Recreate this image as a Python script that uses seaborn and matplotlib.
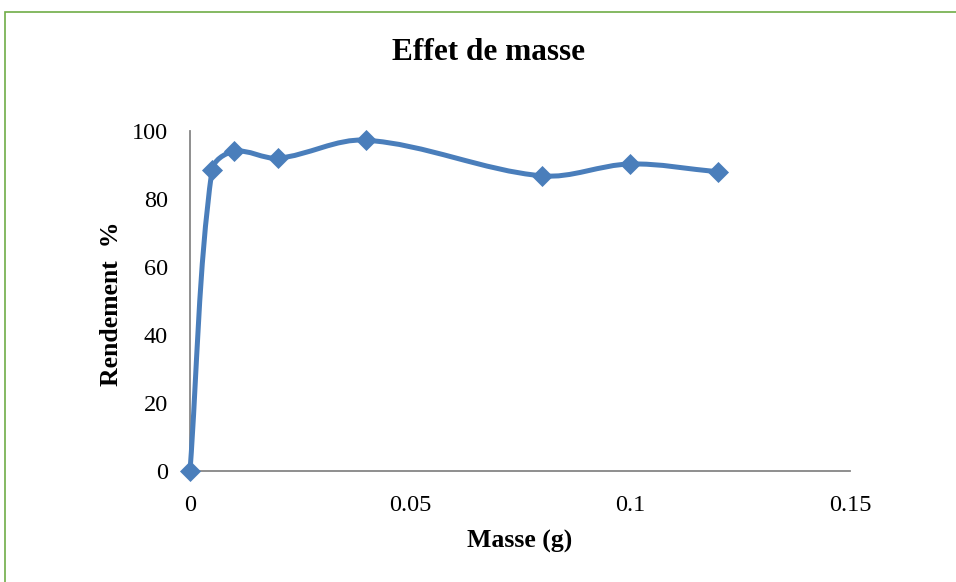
import numpy as np
import pandas as pd
import seaborn as sns
import matplotlib
matplotlib.use("Agg")
import matplotlib.pyplot as plt
from matplotlib.path import Path
from matplotlib.patches import PathPatch, Rectangle

# ---- data ----
masse = [0.0, 0.005, 0.01, 0.02, 0.04, 0.08, 0.10, 0.12]
rendement = [0.0, 88.5, 94.0, 92.0, 97.3, 86.8, 90.3, 88.0]
xticks = [0, 0.05, 0.1, 0.15]
xticklabels = ["0", "0.05", "0.1", "0.15"]
yticks = [0, 20, 40, 60, 80, 100]
yticklabels = ["0", "20", "40", "60", "80", "100"]
title = "Effet de masse"
xlabel = "Masse (g)"
ylabel = "Rendement  %"

BLUE = "#4A7EBB"
GREY = "#868686"
GREEN = "#70AD47"

sns.set_theme(style="white")
plt.rcParams["font.family"] = ["Liberation Serif", "DejaVu Serif"]
plt.rcParams["text.color"] = "black"

fig = plt.figure(figsize=(9.56, 5.82), dpi=100)
ax = fig.add_axes([190 / 956, 1 - 471 / 582, 660 / 956, 340 / 582])
ax.set_xlim(0, 0.15)
ax.set_ylim(0, 100)

df = pd.DataFrame({"masse": masse, "rendement": rendement})

# smoothed (Excel-style) line: cubic Bezier segments built in display space
fig.canvas.draw()
D = ax.transData.transform(np.column_stack([masse, rendement]))
n = len(D)


def unit(v):
    nv = np.hypot(*v)
    return v / nv if nv > 0 else v


verts = [D[0]]
codes = [Path.MOVETO]
for i in range(n - 1):
    p0 = D[i - 1] if i > 0 else D[i]
    p1 = D[i]
    p2 = D[i + 1]
    p3 = D[i + 2] if i + 2 < n else D[i + 1]
    L = np.hypot(*(p2 - p1)) / 3.0
    c1 = p1 + unit(p2 - p0) * L
    c2 = p2 - unit(p3 - p1) * L
    verts += [c1, c2, p2]
    codes += [Path.CURVE4] * 3
verts = ax.transData.inverted().transform(np.array(verts))
patch = PathPatch(Path(verts, codes), facecolor="none", edgecolor=BLUE,
                  lw=3.6, capstyle="round", joinstyle="round", zorder=3,
                  clip_on=False)
ax.add_patch(patch)

sns.scatterplot(data=df, x="masse", y="rendement", marker="D", s=115,
                color=BLUE, edgecolor=BLUE, linewidth=0, ax=ax, zorder=4,
                clip_on=False)

ax.set_xlim(0, 0.15)
ax.set_ylim(0, 100)
ax.set_xticks(xticks)
ax.set_xticklabels(xticklabels)
ax.set_yticks(yticks)
ax.set_yticklabels(yticklabels)
ax.tick_params(axis="both", length=0, labelsize=17.5, colors="black")
ax.tick_params(axis="x", pad=17)
ax.tick_params(axis="y", pad=16)

for s in ["top", "right"]:
    ax.spines[s].set_visible(False)
for s in ["left", "bottom"]:
    ax.spines[s].set_color(GREY)
    ax.spines[s].set_linewidth(1.3)
ax.grid(False)

ax.set_xlabel("")
ax.set_ylabel("")
fig.text(520 / 956, 1 - 541 / 582, xlabel, ha="center", va="center",
         fontsize=18.5, fontweight="bold", color="black")
fig.text(112 / 956, 1 - 304 / 582, ylabel, ha="center", va="center",
         rotation=90, fontsize=18.5, fontweight="bold", color="black")
fig.text(489 / 956, 1 - 52 / 582, title, ha="center", va="center",
         fontsize=22.5, fontweight="bold", color="black")

# outer chart-area border
fig.patches.append(Rectangle((5 / 956, -0.1), 1.2, 1 - 12 / 582 + 0.1,
                             transform=fig.transFigure, fill=False,
                             edgecolor=GREEN, lw=1.2))

fig.savefig("out.png", dpi=100)
